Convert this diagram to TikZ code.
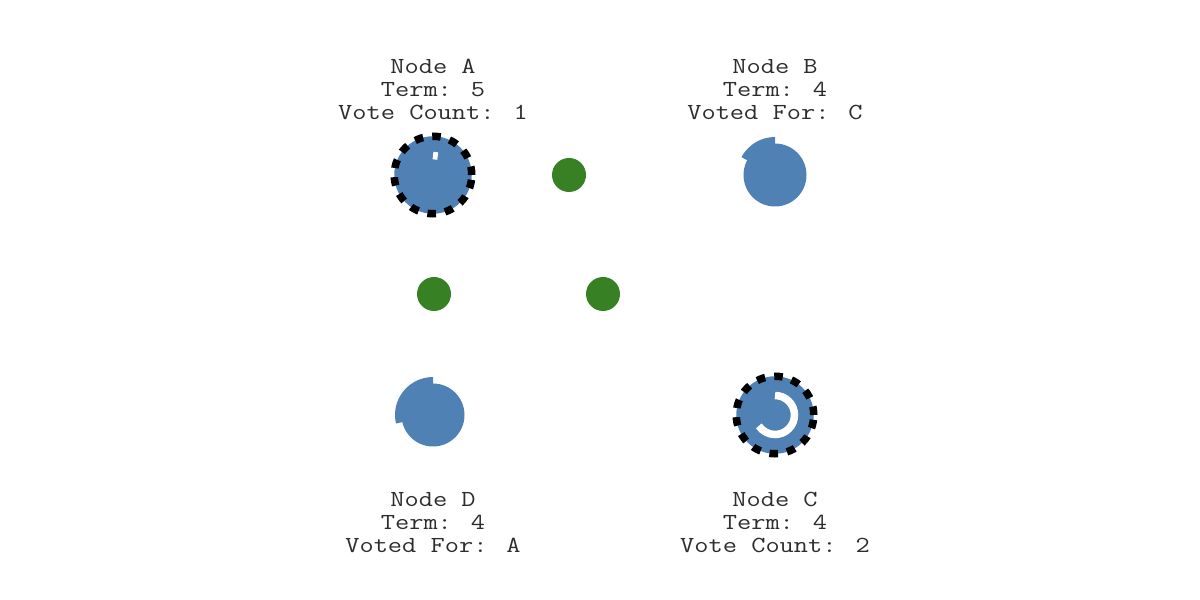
\documentclass[tikz,border=0pt]{standalone}
\usetikzlibrary{positioning}

\definecolor{srvblue}{RGB}{79,129,180}
\definecolor{msggreen}{RGB}{56,128,36}
\definecolor{txtgray}{RGB}{45,45,45}

% three centred lines, widened to the width of the reference's type
\newcommand{\srvinfo}[3]{\scalebox{1.2}[1]{\begin{tabular}{@{}c@{}}#1\\#2\\#3\end{tabular}}}

\begin{document}
\begin{tikzpicture}[x=1pt,y=1pt]
	\useasboundingbox (0,0) rectangle (1200,600);
	\tikzset{
		server/.style={circle, fill=srvblue, inner sep=0pt, minimum size=63pt},
		leader/.style={server, minimum size=77.5pt, draw=black, line width=7.5pt, dash pattern=on 8.5pt off 9.2pt},
		msg/.style={circle, fill=msggreen, inner sep=0pt, minimum size=34pt},
		info/.style={align=center, inner sep=0pt, text=txtgray, font=\ttfamily\fontsize{23}{23}\selectfont},
		timer/.style={draw=white, line width=7.5pt}
	}
	
	% key values
	\def\rt{38}    % radius of the timeout wedge
	\def\ra{19.5}  % radius of the vote arc
	
	% ---------------------- servers ----------------------
	\node (a) [leader] at (433,425) {};
	\node (b) [server] at (775,425) {};
	\node (c) [leader] at (775,185) {};
	\node (d) [server] at (433,185) {};
	
	% timeout wedges of the followers
	\fill[srvblue] (b.center) -- ++(90:\rt) arc[start angle=90, end angle=152, radius=\rt] -- cycle;
	\fill[srvblue] (d.center) -- ++(90:\rt) arc[start angle=90, end angle=193, radius=\rt] -- cycle;
	
	% vote arcs of the candidates
	\draw[timer] (a.center) ++(90:\ra) arc[start angle=90, end angle=76, radius=\ra];
	\draw[timer] (c.center) ++(90:\ra) arc[start angle=90, end angle=-146, radius=\ra];
	
	% ---------------------- messages ----------------------
	\node (m1) [msg] at (569,425) {};
	\node (m2) [msg] at (434,306) {};
	\node (m3) [msg] at (603,306) {};
	
	% ---------------------- labels ----------------------
	\node (la) [info] at (433,508) {\srvinfo{Node A}{Term: 5}{Vote Count: 1}};
	\node (lb) [info] at (775,508) {\srvinfo{Node B}{Term: 4}{Voted For: C}};
	\node (lc) [info] at (775,75) {\srvinfo{Node C}{Term: 4}{Vote Count: 2}};
	\node (ld) [info] at (433,75) {\srvinfo{Node D}{Term: 4}{Voted For: A}};
\end{tikzpicture}
\end{document}
